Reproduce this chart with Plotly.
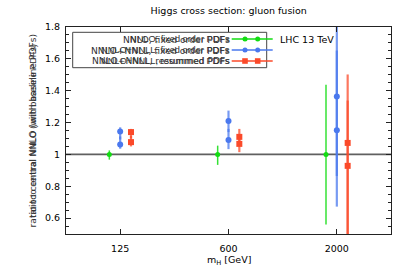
import plotly.graph_objects as go

# ---- data ----
masses = ["125", "600", "2000"]

green_val = [1.0, 1.0, 1.0]
green_up = [0.025, 0.055, 0.437]
green_dn = [0.033, 0.066, 0.44]

blue_hi = [1.144, 1.21, 1.364]
blue_hi_up = [0.026, 0.065, 0.5]
blue_hi_dn = [0.05, 0.07, 0.5]
blue_lo = [1.0625, 1.09, 1.152]
blue_lo_up = [0.05, 0.07, 0.5]
blue_lo_dn = [0.027, 0.057, 0.48]

red_hi = [1.14, 1.11, 1.072]
red_hi_up = [0.02, 0.05, 0.43]
red_hi_dn = [0.04, 0.05, 0.6]
red_lo = [1.077, 1.066, 0.928]
red_lo_up = [0.04, 0.05, 0.41]
red_lo_dn = [0.027, 0.052, 0.5]

legend_labels = ["NNLO, fixed order PDFs",
                 "NNLO+NNLL, fixed order PDFs",
                 "NNLO+NNLL, resummed PDFs"]
title_text = "Higgs cross section: gluon fusion"
ytitle = "ratio to central NNLO (with baseline PDFs)"
xtitle = "m<sub>H</sub> [GeV]"
yticks = [0.6, 0.8, 1.0, 1.2, 1.4, 1.6, 1.8]

# ---- style ----
W, H = 411, 274
L, R, T, B = 66, 20, 27, 40
GREEN = "#12dc12"
BLUE = "#4a78ee"
RED = "#fb4a2a"
EGREEN = "rgba(18,220,18,0.85)"
EBLUE = "rgba(74,120,238,0.75)"
ERED = "rgba(251,74,42,0.75)"
F1 = "DejaVu Sans"
F2 = "Liberation Sans"

def px(x):
    return (x - L) / (W - L - R)

def py(y):
    return (H - B - y) / (H - T - B)

fig = go.Figure()

def add(vals, up, dn, color, ecolor, group, symbol, size, thick):
    fig.add_trace(go.Scatter(
        x=masses, y=vals, mode="markers", offsetgroup=group,
        marker=dict(color=color, symbol=symbol, size=size, line=dict(width=0)),
        error_y=dict(type="data", array=up, arrayminus=dn, color=ecolor,
                     thickness=thick, width=0),
        showlegend=False, hoverinfo="skip"))

add(green_val, green_up, green_dn, GREEN, EGREEN, "g", "circle", 5, 1.5)
add(blue_hi, blue_hi_up, blue_hi_dn, BLUE, EBLUE, "b", "circle", 6, 2.2)
add(blue_lo, blue_lo_up, blue_lo_dn, BLUE, EBLUE, "b", "circle", 6, 2.2)
add(red_hi, red_hi_up, red_hi_dn, RED, ERED, "r", "square", 6, 2.2)
add(red_lo, red_lo_up, red_lo_dn, RED, ERED, "r", "square", 6, 2.2)

shapes = []
# reference line at ratio 1
shapes.append(dict(type="line", xref="paper", yref="y", x0=0, x1=1, y0=1, y1=1,
                   line=dict(color="#606060", width=1.6), layer="below"))
# legend box
shapes.append(dict(type="rect", xref="paper", yref="paper",
                   x0=px(72.7), x1=px(266.7), y0=py(67.7), y1=py(32.3),
                   line=dict(color="#444444", width=1), fillcolor="rgba(0,0,0,0)"))

annotations = []
rows = [39, 50, 61]
cols = [GREEN, BLUE, RED]
syms = ["circle", "circle", "square"]
for lab, yy, c, s in zip(legend_labels, rows, cols, syms):
    shapes.append(dict(type="line", xref="paper", yref="paper",
                       x0=px(231.7), x1=px(272.7), y0=py(yy), y1=py(yy),
                       line=dict(color=c, width=1.6)))
    for mx in (245, 257.7):
        r = 2.5 if s == "circle" else 2.8
        shapes.append(dict(type="circle" if s == "circle" else "rect",
                           xref="paper", yref="paper",
                           x0=px(mx - r), x1=px(mx + r), y0=py(yy + r), y1=py(yy - r),
                           fillcolor=c, line=dict(width=0)))
    for fam in (F1, F2):
        annotations.append(dict(text=lab, xref="paper", yref="paper",
                                x=px(232), y=py(yy), xanchor="right", yanchor="middle",
                                showarrow=False, font=dict(family=fam, size=9.2, color="#333")))

annotations.append(dict(text="LHC 13 TeV", xref="paper", yref="paper", x=px(277.5), y=py(39),
                        xanchor="left", yanchor="middle", showarrow=False,
                        font=dict(family=F1, size=9.5, color="#000")))
for fam in (F1, F2):
    annotations.append(dict(text=ytitle, xref="paper", yref="paper", x=px(32), y=py(130.5),
                            xanchor="center", yanchor="middle", textangle=-90, showarrow=False,
                            font=dict(family=fam, size=9.2, color="#333")))
annotations.append(dict(text=xtitle, xref="paper", yref="paper", x=0.5, y=py(260),
                        xanchor="center", yanchor="middle", showarrow=False,
                        font=dict(family=F1, size=9.5, color="#000")))

axis_common = dict(showline=True, linecolor="#222", linewidth=1, mirror="ticks",
                   ticks="inside", tickcolor="#222", showgrid=False, zeroline=False,
                   tickfont=dict(family=F1, size=9.5, color="#000"))

fig.update_layout(
    width=W, height=H, margin=dict(l=L, r=R, t=T, b=B, pad=0),
    paper_bgcolor="white", plot_bgcolor="white",
    scattermode="group", scattergap=0.7,
    title=dict(text=title_text, x=px(228.7), xref="paper", xanchor="center",
               y=1 - 10.5 / H, yref="container", yanchor="middle",
               font=dict(family=F1, size=9.5, color="#000")),
    xaxis=dict(type="category", categoryorder="array", categoryarray=masses,
               range=[-0.5, 2.5], ticklen=5, ticklabelstandoff=6, **axis_common),
    yaxis=dict(range=[0.5, 1.8], tickvals=yticks, ticklen=5, ticklabelstandoff=3,
               minor=dict(dtick=0.05, tick0=0.5, ticks="inside", ticklen=3, tickcolor="#222"),
               **axis_common),
    shapes=shapes, annotations=annotations, showlegend=False,
)

fig.write_html("out.html", config={"displayModeBar": False},
               post_script="document.body.style.margin='0';")
